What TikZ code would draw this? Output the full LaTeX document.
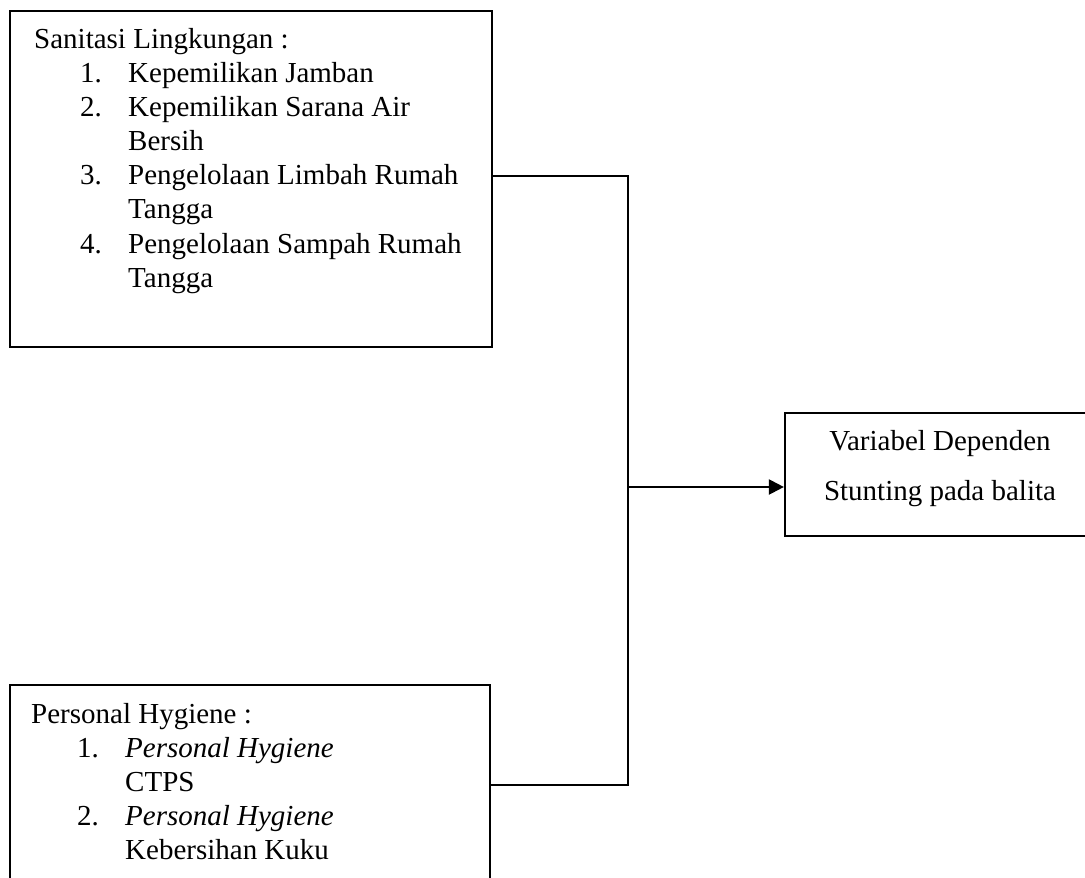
\documentclass[tikz,border=0pt]{standalone}
\usepackage{fontspec}
\setmainfont{Liberation Serif}
\usetikzlibrary{arrows.meta,positioning,calc}

% list line with number, and its continuation line
\newcommand{\numitem}[2]{\hspace*{46pt}\makebox[48pt][l]{#1}#2}
\newcommand{\contline}[1]{\hspace*{94pt}#1}

\tikzset{
  frame/.style={draw,line width=2.2pt,rectangle,inner sep=0pt},
  listtext/.style={anchor=base west,inner sep=0pt,font=\fontsize{29}{34.2}\selectfont},
  link/.style={line width=2.2pt},
}

\begin{document}
\begin{tikzpicture}[x=1pt,y=-1pt]
\useasboundingbox (0,0) rectangle (1085,878);
\clip (0,0) rectangle (1085,878);

% boxes
\node[frame,minimum width=482pt,minimum height=336pt] (sanitasi) at (251,179) {};
\node[frame,minimum width=480pt,minimum height=200pt] (hygiene) at (250,785) {};
\node[frame,minimum width=310pt,minimum height=123pt] (dependen) at (940,474.5) {};

% texts
\node[listtext] (sanitasi text) at (34,48) {\begin{tabular}[t]{@{}l@{}}
Sanitasi Lingkungan :\\
\numitem{1.}{Kepemilikan Jamban}\\
\numitem{2.}{Kepemilikan Sarana Air}\\
\contline{Bersih}\\
\numitem{3.}{Pengelolaan Limbah Rumah}\\
\contline{Tangga}\\
\numitem{4.}{Pengelolaan Sampah Rumah}\\
\contline{Tangga}
\end{tabular}};

\node[listtext] (hygiene text) at (31,723) {\begin{tabular}[t]{@{}l@{}}
Personal Hygiene :\\
\numitem{1.}{\textit{Personal Hygiene}}\\
\contline{CTPS}\\
\numitem{2.}{\textit{Personal Hygiene}}\\
\contline{Kebersihan Kuku}
\end{tabular}};

\node[listtext,anchor=base,font=\fontsize{29}{50}\selectfont] (dependen text) at (940,450) {\begin{tabular}[t]{@{}c@{}}
Variabel Dependen\\
Stunting pada balita
\end{tabular}};

% connectors
\coordinate (bus) at (628,487);
\draw[link] ([yshift=3pt]sanitasi.east) -| (bus) |- (hygiene.east);
\draw[link,-{Triangle[length=15pt,width=15pt]}] (bus) -- (bus -| dependen.west);
\end{tikzpicture}
\end{document}
